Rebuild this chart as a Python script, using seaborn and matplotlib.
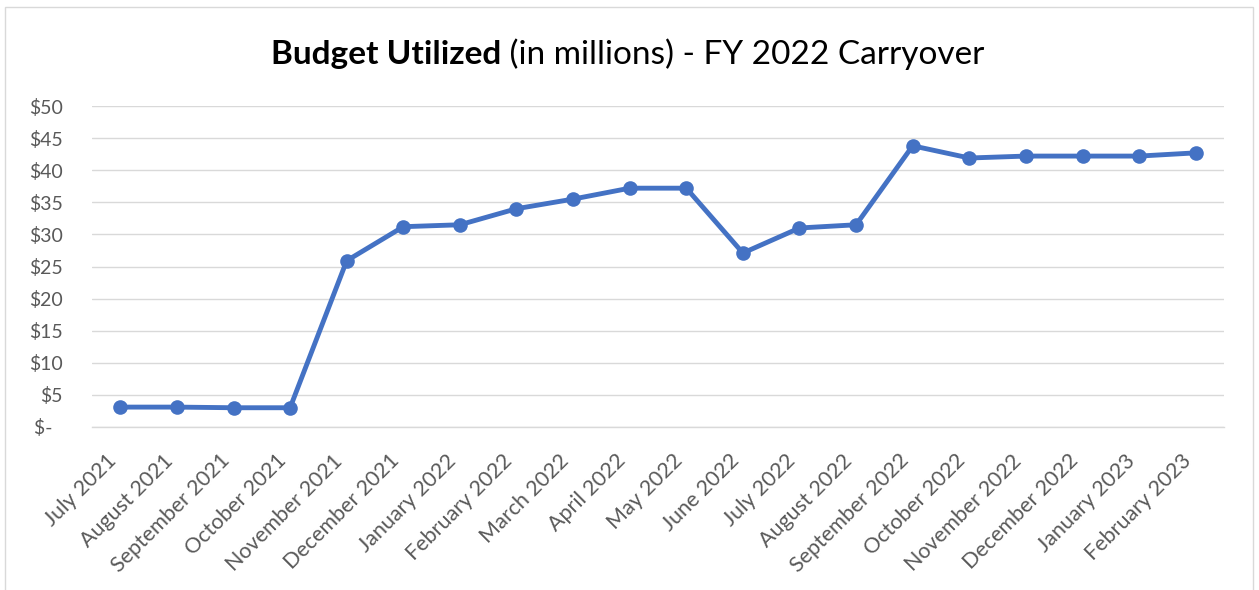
import matplotlib
matplotlib.use("Agg")
import matplotlib.pyplot as plt
import matplotlib.patches as mpatches
import seaborn as sns
import pandas as pd

months = ["July 2021", "August 2021", "September 2021", "October 2021", "November 2021",
          "December 2021", "January 2022", "February 2022", "March 2022", "April 2022",
          "May 2022", "June 2022", "July 2022", "August 2022", "September 2022",
          "October 2022", "November 2022", "December 2022", "January 2023", "February 2023"]
values = [3.1, 3.1, 3.0, 3.0, 25.9, 31.2, 31.5, 34.0, 35.5, 37.2,
          37.2, 27.1, 31.0, 31.5, 43.8, 41.9, 42.2, 42.2, 42.2, 42.7]
y_ticks = [0, 5, 10, 15, 20, 25, 30, 35, 40, 45, 50]
y_labels = ["$-  ", "$5", "$10", "$15", "$20", "$25", "$30", "$35", "$40", "$45", "$50"]
title_bold = "Budget Utilized"
title_rest = " (in millions) - FY 2022 Carryover"

sns.set_style("white")
plt.rcParams["font.family"] = ["Lato", "DejaVu Sans"]

W, H = 1259, 590
fig = plt.figure(figsize=(W / 100, H / 100), dpi=100)
ax = fig.add_axes([92 / W, 1 - 427 / H, (1224 - 92) / W, (427 - 106) / H])

df = pd.DataFrame({"Month": months, "Value": values})
sns.lineplot(data=df, x="Month", y="Value", sort=False, ax=ax, color="#4472C4",
             linewidth=3.5, marker="o", markersize=10.5, markeredgewidth=0, zorder=3)

ax.set_xlim(-0.5, len(months) - 0.5)
ax.set_ylim(0, 50)
ax.set_yticks(y_ticks)
ax.set_yticklabels(y_labels)
ax.set_xlabel("")
ax.set_ylabel("")
ax.grid(axis="y", color="#D9D9D9", linewidth=1.0)
ax.grid(axis="x", visible=False)
ax.set_axisbelow(True)
for s in ["top", "right", "left"]:
    ax.spines[s].set_visible(False)
ax.spines["bottom"].set_color("#D9D9D9")
ax.spines["bottom"].set_linewidth(1.0)

ax.tick_params(axis="y", length=0, pad=21, labelsize=14, labelcolor="#595959")
ax.tick_params(axis="x", length=0, pad=17, labelsize=15.5, labelcolor="#595959")
plt.setp(ax.get_xticklabels(), rotation=45, ha="right")

# Title in two parts (bold + regular), centered
yb = 1 - 64 / H
t1 = fig.text(0, yb, title_bold, fontsize=24, fontweight="bold", color="black", va="baseline")
t2 = fig.text(0, yb, title_rest, fontsize=24, color="black", va="baseline")
r = fig.canvas.get_renderer()
w1 = t1.get_window_extent(r).width
w2 = t2.get_window_extent(r).width
x0 = 628 - (w1 + w2) / 2
t1.set_x(x0 / W)
t2.set_x((x0 + w1) / W)

# Chart border
border = mpatches.Rectangle((4.5 / W, -0.1), (1252.5 - 4.5) / W, 1 - 7.5 / H + 0.1,
                            transform=fig.transFigure, fill=False,
                            edgecolor="#D9D9D9", linewidth=1.0)
fig.add_artist(border)

fig.savefig("out.png", dpi=100)
